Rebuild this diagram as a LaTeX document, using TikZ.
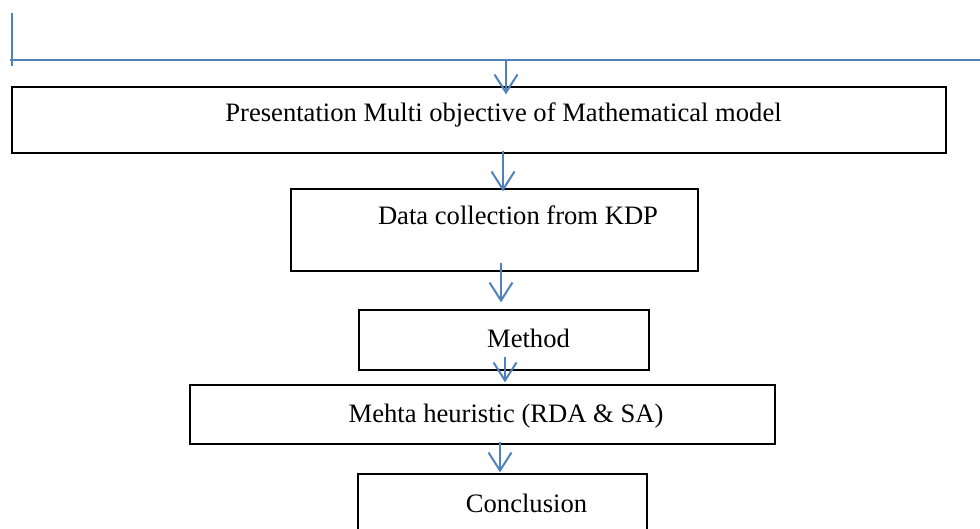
\documentclass[tikz,border=0pt]{standalone}
\usepackage{fontspec}
\setmainfont{Liberation Serif}
\usetikzlibrary{arrows.meta}
\definecolor{flowblue}{RGB}{79,129,189}
\tikzset{
  stagebox/.style={draw=black, line width=1.3pt, rectangle, inner sep=0pt},
  stagetext/.style={anchor=base, inner sep=0pt, font=\fontsize{26.6}{31}\selectfont},
  flow/.style={draw=flowblue, line width=2pt},
  flowarrow/.style={flow, -{Straight Barb[length=18pt,width=23pt,line width=2pt]}}
}
\begin{document}
\begin{tikzpicture}[x=1pt,y=-1pt]
\useasboundingbox (0,0) rectangle (980,528);
\clip (0,0) rectangle (980,528);

% stage boxes
\node[stagebox, minimum width=934pt, minimum height=66pt] (b1) at (479,120) {};
\node[stagebox, minimum width=407pt, minimum height=82pt] (b2) at (494.5,230) {};
\node[stagebox, minimum width=290pt, minimum height=60pt] (b3) at (504,340) {};
\node[stagebox, minimum width=585pt, minimum height=59pt] (b4) at (482.5,414.5) {};
\node[stagebox, minimum width=289pt, minimum height=80pt] (b5) at (502.5,514) {};

% stage labels
\node[stagetext] (t1) at (503.5,121) {Presentation Multi objective of Mathematical model};
\node[stagetext] (t2) at (518,224) {Data collection from KDP};
\node[stagetext] (t3) at (528.5,347) {Method};
\node[stagetext] (t4) at (506,422) {Mehta heuristic (RDA \& SA)};
\node[stagetext] (t5) at (526.5,512) {Conclusion};

% feed line at the top
\coordinate (vtop) at (12,13);
\coordinate (vbot) at (12,66);
\coordinate (hl) at (10,60);
\coordinate (hr) at (980,60);
\draw[flow] (vtop) -- (vbot);
\draw[flow] (hl) -- (hr);

% arrows between stages
\coordinate (s1) at (506,60);
\coordinate (s2) at (503,151);
\coordinate (s3) at (501,263);
\coordinate (s4) at (505,357);
\coordinate (s5) at (500,442);
\draw[flowarrow] (s1) -- ([yshift=-8pt]b1.north -| s1);
\draw[flowarrow] (s2) -- ([yshift=-3pt]b2.north -| s2);
\draw[flowarrow] (s3) -- ([yshift=7pt]b3.north -| s3);
\draw[flowarrow] (s4) -- ([yshift=2pt]b4.north -| s4);
\draw[flowarrow] (s5) -- ([yshift=1pt]b5.north -| s5);
\end{tikzpicture}
\end{document}
